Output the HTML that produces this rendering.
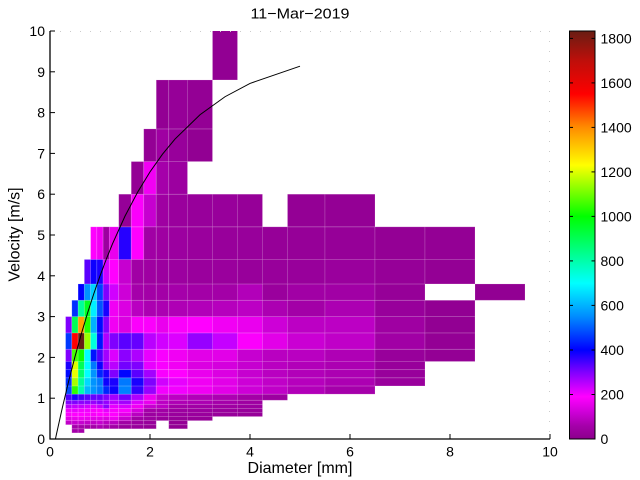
<!DOCTYPE html>
<html><head><meta charset="utf-8">
<style>
html,body{margin:0;padding:0;background:#fff;width:640px;height:480px;overflow:hidden}
svg{display:block}
text{font-family:"Liberation Sans",Arial,sans-serif;fill:#000}
</style></head>
<body>
<svg id="s" width="640" height="480" viewBox="0 0 640 480" xmlns="http://www.w3.org/2000/svg">
<defs>
<clipPath id="pc"><rect x="50" y="31" width="500" height="408"/></clipPath>
<linearGradient id="cb" x1="0" y1="1" x2="0" y2="0">
<stop offset="0" stop-color="rgb(139,0,139)"/>
<stop offset="0.0327" stop-color="rgb(165,0,170)"/>
<stop offset="0.0655" stop-color="rgb(205,0,215)"/>
<stop offset="0.1037" stop-color="rgb(255,0,255)"/>
<stop offset="0.1637" stop-color="rgb(128,0,255)"/>
<stop offset="0.2182" stop-color="rgb(0,0,255)"/>
<stop offset="0.3001" stop-color="rgb(0,140,255)"/>
<stop offset="0.3819" stop-color="rgb(0,255,255)"/>
<stop offset="0.4637" stop-color="rgb(0,255,128)"/>
<stop offset="0.5456" stop-color="rgb(0,255,0)"/>
<stop offset="0.671" stop-color="rgb(255,255,0)"/>
<stop offset="0.7638" stop-color="rgb(255,140,0)"/>
<stop offset="0.8456" stop-color="rgb(255,0,0)"/>
<stop offset="0.9274" stop-color="rgb(190,15,10)"/>
<stop offset="1" stop-color="rgb(105,29,19)"/>
</linearGradient>
</defs>
<rect width="640" height="480" fill="#fff"/>
<g id="cells" clip-path="url(#pc)"></g>
<g clip-path="url(#pc)"><polyline id="curve" fill="none" stroke="#000" stroke-width="1" points=""/></g>

<!-- faint top/right box -->
<line x1="50" y1="31.5" x2="550" y2="31.5" stroke="#ccc" stroke-width="1" stroke-dasharray="1,9"/>
<line x1="549.5" y1="31" x2="549.5" y2="439" stroke="#ccc" stroke-width="1" stroke-dasharray="1,9"/>

<!-- axes -->
<line x1="50" y1="31" x2="50" y2="439.5" stroke="#000" stroke-width="1.3"/>
<line x1="49.5" y1="439" x2="550" y2="439" stroke="#000" stroke-width="1.3"/>
<g stroke="#000" stroke-width="1">
<line x1="150" y1="439" x2="150" y2="434"/>
<line x1="250" y1="439" x2="250" y2="434"/>
<line x1="350" y1="439" x2="350" y2="434"/>
<line x1="450" y1="439" x2="450" y2="434"/>
<line x1="550" y1="439" x2="550" y2="434"/>
<line x1="50" y1="398.2" x2="55" y2="398.2"/>
<line x1="50" y1="357.4" x2="55" y2="357.4"/>
<line x1="50" y1="316.6" x2="55" y2="316.6"/>
<line x1="50" y1="275.8" x2="55" y2="275.8"/>
<line x1="50" y1="235" x2="55" y2="235"/>
<line x1="50" y1="194.2" x2="55" y2="194.2"/>
<line x1="50" y1="153.4" x2="55" y2="153.4"/>
<line x1="50" y1="112.6" x2="55" y2="112.6"/>
<line x1="50" y1="71.8" x2="55" y2="71.8"/>
<line x1="50" y1="31" x2="55" y2="31"/>
</g>

<!-- x tick labels -->
<g font-size="14" text-anchor="middle">
<text x="50" y="456.5">0</text>
<text x="150" y="456.5">2</text>
<text x="250" y="456.5">4</text>
<text x="350" y="456.5">6</text>
<text x="450" y="456.5">8</text>
<text x="550" y="456.5">10</text>
</g>
<!-- y tick labels -->
<g font-size="14" text-anchor="end">
<text x="45" y="444">0</text>
<text x="45" y="403.2">1</text>
<text x="45" y="362.4">2</text>
<text x="45" y="321.6">3</text>
<text x="45" y="280.8">4</text>
<text x="45" y="240">5</text>
<text x="45" y="199.2">6</text>
<text x="45" y="158.4">7</text>
<text x="45" y="117.6">8</text>
<text x="45" y="76.8">9</text>
<text x="45" y="36">10</text>
</g>

<text x="300" y="473" font-size="16" text-anchor="middle">Diameter [mm]</text>
<text transform="translate(19.5,234.5) rotate(-90)" font-size="16" text-anchor="middle">Velocity [m/s]</text>
<text x="300" y="18.5" font-size="15" text-anchor="middle" textLength="99" lengthAdjust="spacingAndGlyphs">11−Mar−2019</text>

<!-- colorbar -->
<rect x="569.5" y="31" width="25.5" height="408" fill="url(#cb)" stroke="#000" stroke-width="1"/>
<g stroke="#000" stroke-width="1">
<line x1="569.5" y1="394.5" x2="573" y2="394.5"/><line x1="591.5" y1="394.5" x2="595" y2="394.5"/>
<line x1="569.5" y1="350" x2="573" y2="350"/><line x1="591.5" y1="350" x2="595" y2="350"/>
<line x1="569.5" y1="305.4" x2="573" y2="305.4"/><line x1="591.5" y1="305.4" x2="595" y2="305.4"/>
<line x1="569.5" y1="260.9" x2="573" y2="260.9"/><line x1="591.5" y1="260.9" x2="595" y2="260.9"/>
<line x1="569.5" y1="216.4" x2="573" y2="216.4"/><line x1="591.5" y1="216.4" x2="595" y2="216.4"/>
<line x1="569.5" y1="171.9" x2="573" y2="171.9"/><line x1="591.5" y1="171.9" x2="595" y2="171.9"/>
<line x1="569.5" y1="127.4" x2="573" y2="127.4"/><line x1="591.5" y1="127.4" x2="595" y2="127.4"/>
<line x1="569.5" y1="82.9" x2="573" y2="82.9"/><line x1="591.5" y1="82.9" x2="595" y2="82.9"/>
<line x1="569.5" y1="38.4" x2="573" y2="38.4"/><line x1="591.5" y1="38.4" x2="595" y2="38.4"/>
</g>
<g font-size="14" text-anchor="start">
<text x="600.5" y="444">0</text>
<text x="600.5" y="399.5">200</text>
<text x="600.5" y="355">400</text>
<text x="600.5" y="310.4">600</text>
<text x="600.5" y="265.9">800</text>
<text x="600.5" y="221.4">1000</text>
<text x="600.5" y="176.9">1200</text>
<text x="600.5" y="132.4">1400</text>
<text x="600.5" y="87.9">1600</text>
<text x="600.5" y="43.4">1800</text>
</g>
</svg>
<script>
(function(){
var D=[0.062,0.187,0.312,0.437,0.562,0.687,0.812,0.937,1.062,1.187,1.375,1.625,1.875,2.125,2.375,2.75,3.25,3.75,4.25,4.75,5.5,6.5,7.5,8.5,9.5];
var V=[0.05,0.15,0.25,0.35,0.45,0.55,0.65,0.75,0.85,0.95,1.1,1.3,1.5,1.7,1.9,2.2,2.6,3.0,3.4,3.8,4.4,5.2,6.0,6.8,7.6,8.8,10.4];
function px(d){return 50+d*50;}
function py(v){return 439-v*40.8;}
var N=null;
var R={
25:[16,[15]],
24:[13,[18,25,20]],
23:[12,[20,45,30,15]],
22:[11,[20,170,60,40]],
21:[10,[25,185,110,45,35,30,30,25,N,20,20]],
20:[6,[190,170,40,160,370,190,50,45,40,35,30,30,25,25,25,20,20]],
19:[5,[330,390,380,230,190,110,50,45,40,40,35,35,30,30,30,35,25,20]],
18:[4,[400,560,640,470,300,230,120,60,55,55,60,55,55,80,35,50,50,25,N,15]],
17:[3,[450,820,960,680,490,380,170,140,90,70,70,75,80,85,95,70,55,70,30,15]],
16:[2,[300,900,1370,1030,600,410,300,170,140,185,185,160,185,190,170,160,120,95,95,45,15]],
15:[2,[460,1550,1840,1140,740,420,260,300,330,320,250,230,220,280,240,185,150,115,100,50,20]],
14:[2,[300,1060,1010,700,420,340,270,220,290,260,210,195,170,150,150,110,90,90,75,30,20]],
13:[2,[380,1200,900,700,530,390,280,250,310,300,210,195,170,140,130,110,90,80,70,30]],
12:[2,[410,1210,870,700,560,440,380,300,405,330,270,195,190,160,140,110,90,80,70,30]],
11:[2,[450,1150,820,650,560,530,390,380,530,380,300,230,210,170,150,120,100,85,70,35]],
10:[2,[480,1040,800,610,560,530,440,390,540,360,280,200,200,170,150,120,100,80,60]],
9:[2,[340,380,350,330,320,320,300,270,310,260,165,110,95,80,70,55,40]],
8:[2,[300,300,290,290,280,300,280,250,270,220,160,95,75,70,60,45]],
7:[2,[250,240,240,230,220,240,290,210,225,170,110,95,55,50,45,40]],
6:[2,[200,210,200,200,195,190,210,195,195,130,55,50,40,40,35,30]],
5:[2,[185,190,190,185,180,190,185,190,150,90,40,50,35,35,30,25]],
4:[2,[150,160,165,160,150,150,140,165,110,50,40,30,25,25]],
3:[2,[100,110,110,100,100,110,90,90,50,40,30,N,20]],
2:[3,[60,60,55,55,70,60,50,30,30,20,N,15]],
1:[3,[60,60]]
};
var C=[[0,139,0,139],[60,165,0,170],[120,205,0,215],[190,255,0,255],[300,128,0,255],[400,0,0,255],[550,0,140,255],[700,0,255,255],[850,0,255,128],[1000,0,255,0],[1230,255,255,0],[1400,255,140,0],[1550,255,0,0],[1700,190,15,10],[1840,100,30,20]];
function col(v){
 if(v<=C[0][0])return 'rgb(139,0,139)';
 for(var k=1;k<C.length;k++){
  if(v<=C[k][0]){var a=C[k-1],b=C[k],t=(v-a[0])/(b[0]-a[0]);
   return 'rgb('+Math.round(a[1]+t*(b[1]-a[1]))+','+Math.round(a[2]+t*(b[2]-a[2]))+','+Math.round(a[3]+t*(b[3]-a[3]))+')';}
 }
 return 'rgb(100,30,20)';
}
var ns='http://www.w3.org/2000/svg';
var g=document.getElementById('cells');
for(var j in R){
 j=+j;var st=R[j][0],vals=R[j][1];
 for(var k=0;k<vals.length;k++){
  var v=vals[k];if(v===null)continue;var i=st+k;
  var x1=px(D[i]),x2=px(D[i+1]),y1=py(V[j+1]),y2=py(V[j]);
  var r=document.createElementNS(ns,'rect');
  r.setAttribute('x',x1.toFixed(2));r.setAttribute('y',y1.toFixed(2));
  r.setAttribute('width',(x2-x1).toFixed(2));r.setAttribute('height',(y2-y1).toFixed(2));
  r.setAttribute('fill',col(v));
  r.setAttribute('stroke','#ffffff');r.setAttribute('stroke-opacity','0.18');r.setAttribute('stroke-width','0.8');
  g.appendChild(r);
 }
}
var pts=[],Ds=[0.10865];
for(var d=0.125;d<=1.25001;d+=0.125)Ds.push(d);
[1.5,1.75,2,2.25,2.5,3,3.5,4,5].forEach(function(x){Ds.push(x);});
Ds.forEach(function(d){var v=9.65-10.3*Math.exp(-0.6*d);pts.push(px(d).toFixed(2)+','+py(v).toFixed(2));});
document.getElementById('curve').setAttribute('points',pts.join(' '));
})();
</script>
</body></html>
